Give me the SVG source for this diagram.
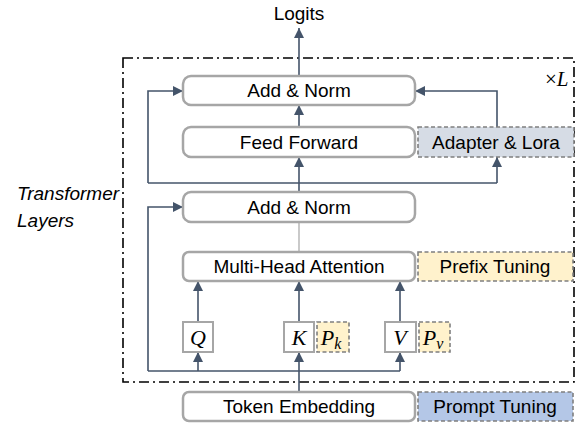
<svg xmlns="http://www.w3.org/2000/svg" width="581" height="426" viewBox="0 0 581 426">
<defs>
<marker id="ah" markerUnits="userSpaceOnUse" markerWidth="10" markerHeight="10" refX="10" refY="5" orient="auto">
<path d="M0,0 L10,5 L0,10 z" fill="#44546a"/>
</marker>
<style>
.box{fill:#fff;stroke:#a6a6a6;stroke-width:2.5}
.dbox{stroke:#7f7f7f;stroke-width:1.6;stroke-dasharray:4 2.5}
.lbl{font-family:"Liberation Sans",Arial,sans-serif;font-size:19px;fill:#000;text-anchor:middle}
.var{font-family:"Liberation Serif","Times New Roman",serif;font-style:italic;font-size:22px;fill:#000;text-anchor:middle}
.c{fill:none;stroke:#44546a;stroke-width:1.6}
.ca{fill:none;stroke:#44546a;stroke-width:1.6;marker-end:url(#ah)}
</style>
</defs>
<rect width="581" height="426" fill="#fff"/>
<g id="layer-frame">
<rect x="123" y="58" width="451" height="324" fill="none" stroke="#000" stroke-width="1.6" stroke-dasharray="10 4 2 4"/>
<text x="545" y="86" font-family="Liberation Serif,serif" font-size="21px" fill="#000">×<tspan font-style="italic">L</tspan></text>
</g>
<g id="label-transformer">
<text x="17" y="200" font-family="Liberation Sans,sans-serif" font-style="italic" font-size="19px" fill="#000">Transformer</text>
<text x="17" y="227" font-family="Liberation Sans,sans-serif" font-style="italic" font-size="19px" fill="#000">Layers</text>
</g>
<g id="connectors">
<line class="ca" x1="299" y1="76" x2="299" y2="28"/>
<line class="ca" x1="299" y1="127" x2="299" y2="105"/>
<line class="ca" x1="299" y1="192" x2="299" y2="157"/>
<path class="c" d="M148,183 H497"/>
<line class="ca" x1="497" y1="183" x2="497" y2="157"/>
<path class="ca" d="M148,183 V91 H183"/>
<path class="ca" d="M497,127 V91 H415"/>
<line x1="299" y1="222" x2="299" y2="252" stroke="#a6a6a6" stroke-width="1.2"/>
<line class="ca" x1="198" y1="322" x2="198" y2="281"/>
<line class="ca" x1="299" y1="322" x2="299" y2="281"/>
<line class="ca" x1="400" y1="322" x2="400" y2="281"/>
<path class="c" d="M148,371 H400"/>
<line class="ca" x1="198" y1="371" x2="198" y2="352"/>
<line class="ca" x1="299" y1="392" x2="299" y2="352"/>
<line class="ca" x1="400" y1="371" x2="400" y2="352"/>
<path class="ca" d="M148,371 V207 H183"/>
</g>
<g id="logits"><text class="lbl" x="299" y="20">Logits</text></g>
<g id="add-norm-top"><rect class="box" x="183" y="76" width="232" height="29" rx="8"/><text class="lbl" x="299" y="97">Add &amp; Norm</text></g>
<g id="feed-forward"><rect class="box" x="183" y="127" width="232" height="30" rx="8"/><text class="lbl" x="299" y="149">Feed Forward</text></g>
<g id="adapter-lora"><rect class="dbox" x="418" y="127" width="156" height="30" fill="#d6dce5"/><text class="lbl" x="496" y="149">Adapter &amp; Lora</text></g>
<g id="add-norm-bottom"><rect class="box" x="183" y="192" width="232" height="30" rx="8"/><text class="lbl" x="299" y="214">Add &amp; Norm</text></g>
<g id="mha"><rect class="box" x="183" y="252" width="232" height="29" rx="6"/><text class="lbl" x="299" y="273">Multi-Head Attention</text></g>
<g id="prefix-tuning"><rect class="dbox" x="418" y="252" width="155" height="29" fill="#fff2cc"/><text class="lbl" x="495" y="273">Prefix Tuning</text></g>
<g id="q"><rect x="183" y="322" width="30" height="30" fill="#fff" stroke="#a6a6a6" stroke-width="2"/><text class="var" x="198" y="345">Q</text></g>
<g id="k"><rect x="284" y="322" width="30" height="30" fill="#fff" stroke="#a6a6a6" stroke-width="2"/><text class="var" x="299" y="345">K</text></g>
<g id="pk"><rect class="dbox" x="317" y="322" width="32" height="30" fill="#fff2cc"/><text class="var" x="331" y="345">P<tspan font-size="16px" dy="4">k</tspan></text></g>
<g id="v"><rect x="385" y="322" width="31" height="30" fill="#fff" stroke="#a6a6a6" stroke-width="2"/><text class="var" x="400" y="345">V</text></g>
<g id="pv"><rect class="dbox" x="419" y="322" width="31" height="30" fill="#fff2cc"/><text class="var" x="433" y="345">P<tspan font-size="16px" dy="4">v</tspan></text></g>
<g id="token-embedding"><rect class="box" x="183" y="392" width="232" height="29" rx="6"/><text class="lbl" x="299" y="413">Token Embedding</text></g>
<g id="prompt-tuning"><rect class="dbox" x="418" y="392" width="155" height="29" fill="#b4c7e7"/><text class="lbl" x="495" y="413">Prompt Tuning</text></g>
</svg>
